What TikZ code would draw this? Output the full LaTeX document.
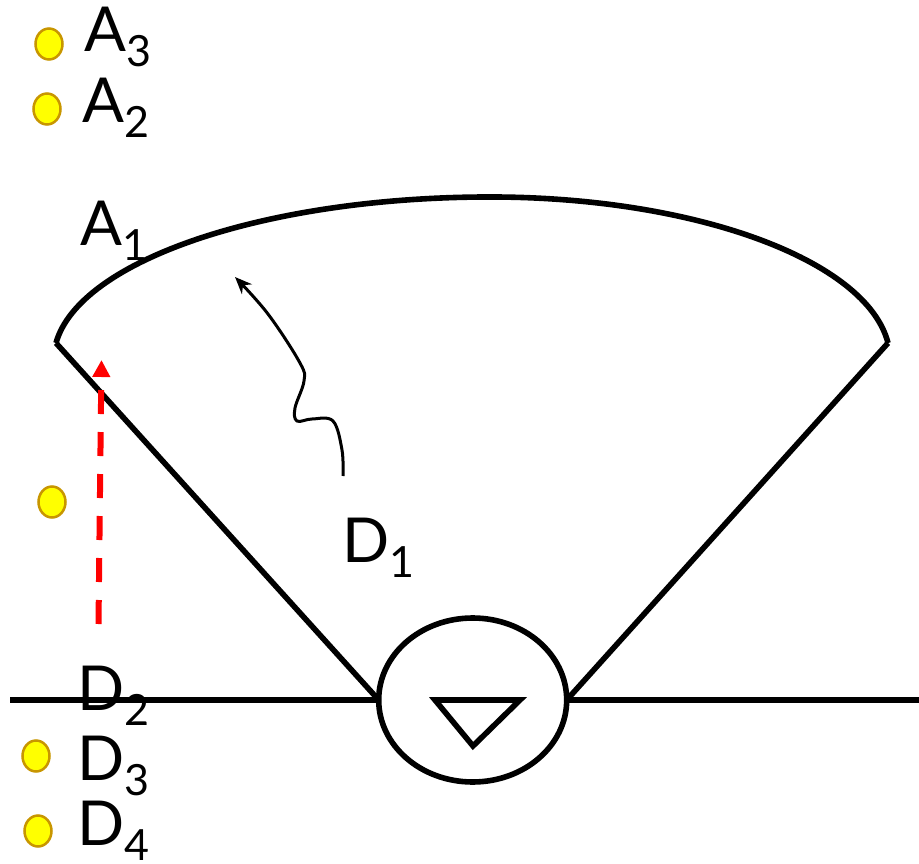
\documentclass[tikz,border=0pt]{standalone}
\usepackage{fontspec}
\setmainfont{Lato}
\usetikzlibrary{arrows.meta,shapes.geometric}
\definecolor{dotfill}{RGB}{255,255,0}
\definecolor{dotedge}{RGB}{200,150,0}
\definecolor{redarrow}{RGB}{255,0,0}
\newcommand\sublbl[2]{#1\raisebox{-15pt}{\fontsize{43}{43}\selectfont #2}}
\begin{document}
\begin{tikzpicture}[x=1pt,y=-1pt,
  thick line/.style={line width=5.6pt,black},
  ydot/.style={ellipse,draw=dotedge,fill=dotfill,line width=2.5pt,minimum width=27pt,minimum height=31pt,inner sep=0pt},
  lbl/.style={anchor=base west,inner sep=0pt,font=\fontsize{62}{62}\selectfont},
  wave/.style={line width=3pt,-{Stealth[length=17pt,width=14pt]}},
  reddash/.style={line width=6pt,redarrow,dash pattern=on 24pt off 18pt,-{Triangle[length=17pt,width=17pt]}}
]
\useasboundingbox (0,0) rectangle (919,864);
% coordinates
\coordinate (al) at (56,343);
\coordinate (ar) at (888,343);
\coordinate (hl) at (10,700);
\coordinate (hr) at (919,700);
\node[ellipse,draw,line width=5.6pt,minimum width=188pt,minimum height=164pt,inner sep=0pt,outer sep=0pt] (ell) at (472.7,700) {};
% arc
\draw[thick line] (al) arc[start angle=185.98,end angle=270,x radius=436.4,y radius=163]
  arc[start angle=270,end angle=354.02,x radius=400.2,y radius=163];
% straight lines
\draw[thick line] (al) -- (ell.west);
\draw[thick line] (ar) -- (ell.east);
\draw[thick line] (hl) -- (ell.west);
\draw[thick line] (ell.east) -- (hr);
% triangle
\draw[thick line,line join=miter] (435,700) -- (520,700) -- (473,746) -- cycle;
% wavy arrow
\coordinate (w0) at (343,476);
\coordinate (w1) at (235,277);
\draw[wave] plot[smooth,tension=0.6] coordinates {(w0) (342,450) (333,421) (312,419) (297,421) (295,408) (304,381) (300,363) (268,314) (w1)};
% red dashed arrow
\coordinate (r0) at (98.5,624);
\coordinate (r1) at (101.5,360);
\draw[reddash] (r0) -- (r1);
% dots
\node[ydot] (d1) at (49,44) {};
\node[ydot] (d2) at (47,109) {};
\node[ydot] (d3) at (52,502) {};
\node[ydot] (d4) at (36,756) {};
\node[ydot] (d5) at (38,831) {};
% labels
\node[lbl] (la3) at (84,52) {\sublbl{A}{3}};
\node[lbl] (la2) at (82,123) {\sublbl{A}{2}};
\node[lbl] (la1) at (80,245) {\sublbl{A}{1}};
\node[lbl] (ld1) at (342,562) {\sublbl{D}{1}};
\node[lbl] (ld2) at (77,710) {\sublbl{D}{2}};
\node[lbl] (ld3) at (77,780) {\sublbl{D}{3}};
\node[lbl] (ld4) at (77,845) {\sublbl{D}{4}};
\end{tikzpicture}
\end{document}
